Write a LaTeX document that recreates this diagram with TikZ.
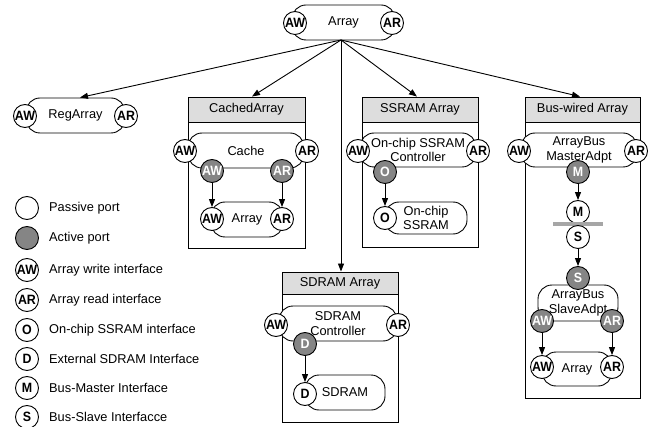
\documentclass[tikz,border=0pt]{standalone}
\usepackage{fontspec}
\setmainfont{Liberation Sans}
\usetikzlibrary{arrows.meta,calc}
\definecolor{hdr}{HTML}{DDDDDD}
\definecolor{act}{HTML}{858585}
\definecolor{barc}{HTML}{A6A6A6}
\newcommand\portlbl[1]{\makebox[0pt]{#1}}
\begin{document}
\begin{tikzpicture}[x=1pt,y=-1pt,
  every node/.style={font=\fontsize{12.8}{14.5}\selectfont},
  stad/.style={draw, fill=white, rounded corners=14pt, line width=0.9pt, inner sep=0pt},
  pport/.style={circle, draw, fill=white, minimum size=23pt, inner sep=0pt, line width=0.9pt,
    font=\fontsize{13.5}{14}\selectfont\bfseries\addfontfeature{FakeStretch=0.92}},
  aport/.style={pport, fill=act, text=white},
  boxn/.style={draw, fill=white, line width=0.9pt, inner sep=0pt},
  hdrn/.style={draw, fill=hdr, line width=0.9pt, inner sep=0pt},
  arr/.style={-{Triangle[length=8pt,width=6pt]}, line width=0.9pt},
  legt/.style={anchor=west, inner sep=0pt}
]
\useasboundingbox (0,0) rectangle (655,427);

% ---------- top Array ----------
\node[stad, minimum width=103pt, minimum height=35pt] (top) at (343.5,22.5) {Array};
\node[pport] (topaw) at (295,23) {\portlbl{AW}};
\node[pport] (topar) at (392,23) {\portlbl{AR}};

% ---------- RegArray ----------
\node[stad, minimum width=99pt, minimum height=35pt] (reg) at (75.5,115.5) {RegArray};
\node[pport] (regaw) at (25,116) {\portlbl{AW}};
\node[pport] (regar) at (126,116) {\portlbl{AR}};

% ---------- CachedArray ----------
\node[boxn, minimum width=117pt, minimum height=151pt] (cbox) at (246.5,172.5) {};
\node[hdrn, minimum width=117pt, minimum height=25pt] (chdr) at (246.5,109.5) {CachedArray};
\node[stad, minimum width=116pt, minimum height=35pt] (cache) at (246,150.5) {Cache};
\node[pport] (cacheaw) at (185,151) {\portlbl{AW}};
\node[pport] (cachear) at (307,151) {\portlbl{AR}};
\node[aport] (cacheaaw) at (212,171) {\portlbl{AW}};
\node[aport] (cacheaar) at (282,171) {\portlbl{AR}};
\node[stad, minimum width=72pt, minimum height=35pt] (carr) at (247,219.5) {Array};
\node[pport] (carraw) at (212,219) {\portlbl{AW}};
\node[pport] (carrar) at (282,219) {\portlbl{AR}};
\draw[arr] (cacheaaw) -- (carraw);
\draw[arr] (cacheaar) -- (carrar);

% ---------- SSRAM Array ----------
\node[boxn, minimum width=116pt, minimum height=150pt] (sbox) at (420,172) {};
\node[hdrn, minimum width=116pt, minimum height=25pt] (shdr) at (420,109.5) {SSRAM Array};
\node[stad, minimum width=116pt, minimum height=34pt, align=center] (sctl) at (418,150) {On-chip SSRAM\\Controller};
\node[pport] (sctlaw) at (358,151) {\portlbl{AW}};
\node[pport] (sctlar) at (478,151) {\portlbl{AR}};
\node[aport] (sctlo) at (385,172) {\portlbl{O}};
\node[stad, minimum width=82pt, minimum height=32pt, align=center] (sram) at (426,218) {On-chip\\SSRAM};
\node[pport] (sramo) at (385,218) {\portlbl{O}};
\draw[arr] (sctlo) -- (sramo);

% ---------- SDRAM Array ----------
\node[boxn, minimum width=116pt, minimum height=150pt] (dbox) at (340,347) {};
\node[hdrn, minimum width=116pt, minimum height=22pt] (dhdr) at (340,283) {SDRAM Array};
\node[stad, minimum width=118pt, minimum height=35pt, align=center] (dctl) at (338,323.5) {SDRAM\\Controller};
\node[pport] (dctlaw) at (276,325) {\portlbl{AW}};
\node[pport] (dctlar) at (398,325) {\portlbl{AR}};
\node[aport] (dctld) at (305,344) {\portlbl{D}};
\node[stad, minimum width=80pt, minimum height=35pt] (dram) at (345,392.5) {SDRAM};
\node[pport] (dramd) at (305,394) {\portlbl{D}};
\draw[arr] (dctld) -- (dramd);

% ---------- Bus-wired Array ----------
\node[boxn, minimum width=115pt, minimum height=301pt] (bbox) at (582.5,247.5) {};
\node[hdrn, minimum width=115pt, minimum height=25pt] (bhdr) at (582.5,109.5) {Bus-wired Array};
\node[stad, minimum width=116pt, minimum height=34pt, align=center] (mad) at (579,150) {ArrayBus\\MasterAdpt};
\node[pport] (madaw) at (519,151) {\portlbl{AW}};
\node[pport] (madar) at (636,151) {\portlbl{AR}};
\node[aport] (madm) at (578,172) {\portlbl{M}};
\node[pport] (busm) at (578,212) {\portlbl{M}};
\coordinate (barl) at (553,224);
\coordinate (barr) at (603,224);
\draw[barc, line width=4pt] (barl) -- (barr);
\node[pport] (buss) at (578,237) {\portlbl{S}};
\node[stad, minimum width=80pt, minimum height=36pt, align=center] (sad) at (578,303) {ArrayBus\\SlaveAdpt};
\node[aport] (sads) at (578,278) {\portlbl{S}};
\node[aport] (sadaw) at (542,321) {\portlbl{AW}};
\node[aport] (sadar) at (612,321) {\portlbl{AR}};
\node[stad, minimum width=70pt, minimum height=34pt] (barr2) at (577,369) {Array};
\node[pport] (barraw) at (542,367) {\portlbl{AW}};
\node[pport] (barrar) at (612,367) {\portlbl{AR}};
\draw[arr] (madm) -- (busm);
\draw[arr] (buss) -- (sads);
\draw[arr] (sadaw) -- (barraw);
\draw[arr] (sadar) -- (barrar);

% ---------- arrows from top ----------
\coordinate (src) at (341,40);
\draw[arr] (src) -- ([xshift=4.5pt]reg.north);
\draw[arr] (src) -- ([xshift=5.5pt]chdr.north);
\draw[arr] (src) -- ([xshift=1pt]dhdr.north);
\draw[arr] (src) -- ([xshift=-3pt]shdr.north);
\draw[arr] (src) -- ([xshift=-2.5pt]bhdr.north);

% ---------- legend ----------
\node[pport] (l1) at (27,208) {};
\node[legt] (t1) at (49,208) {Passive port};
\node[aport] (l2) at (27,238) {};
\node[legt] (t2) at (49,238) {Active port};
\node[pport] (l3) at (27,270) {\portlbl{AW}};
\node[legt] (t3) at (49,270) {Array write interface};
\node[pport] (l4) at (27,300) {\portlbl{AR}};
\node[legt] (t4) at (49,300) {Array read interface};
\node[pport] (l5) at (27,330) {\portlbl{O}};
\node[legt] (t5) at (49,330) {On-chip SSRAM interface};
\node[pport] (l6) at (27,359) {\portlbl{D}};
\node[legt] (t6) at (49,359) {External SDRAM Interface};
\node[pport] (l7) at (27,388) {\portlbl{M}};
\node[legt] (t7) at (49,388) {Bus-Master Interface};
\node[pport] (l8) at (27,417) {\portlbl{S}};
\node[legt] (t8) at (49,417) {Bus-Slave Interfacce};
\end{tikzpicture}
\end{document}
